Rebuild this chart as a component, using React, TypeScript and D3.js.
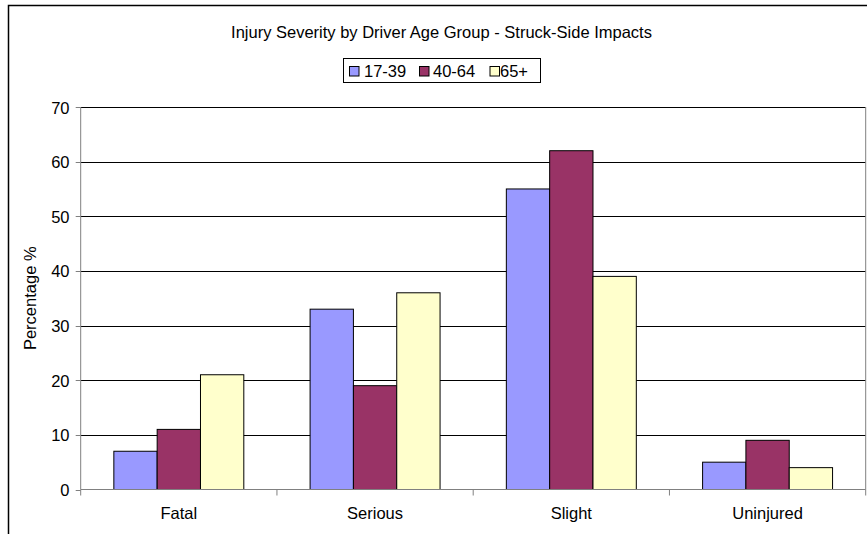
import React from "react";
import * as d3 from "d3";

const categories = ["Fatal", "Serious", "Slight", "Uninjured"];
const seriesNames = ["17-39", "40-64", "65+"];
const values17_39 = [7, 33, 55, 5];
const values40_64 = [11, 19, 62, 9];
const values65 = [21, 36, 39, 4];
const yTicks = [0, 10, 20, 30, 40, 50, 60, 70];
const colors = ["#9999FF", "#993366", "#FFFFCC"];

const W = 867, H = 534;
const plot = { left: 80.7, right: 865.7, top: 107, bottom: 489.5 };
const FONT = "'Liberation Sans', Arial, sans-serif";
const FS = 16.5;

export default function App() {
  const series = [values17_39, values40_64, values65];
  const x = d3.scaleBand().domain(categories).range([plot.left, plot.right]).paddingInner(0).paddingOuter(0);
  const inner = d3.scaleBand().domain(seriesNames).range([0, x.bandwidth()]).paddingInner(0).paddingOuter(0.765);
  const y = d3.scaleLinear().domain([0, 70]).range([plot.bottom, plot.top]);
  const xTickPos = [...categories.map((c) => x(c)!), plot.right];
  const legendSq = [349, 419, 489.5];
  const legendTx = [364, 433, 500];

  return (
    <svg width={W} height={H} style={{ position: "absolute", left: 0, top: 0, background: "#fff" }} fontFamily={FONT}>
      <rect x={8.5} y={5.5} width={W + 10} height={H + 10} fill="#fff" stroke="#000" strokeWidth={1.5} />
      <text x={441.5} y={37.7} textAnchor="middle" fontSize={FS} fill="#000">
        Injury Severity by Driver Age Group - Struck-Side Impacts
      </text>
      {/* legend */}
      <rect x={343.5} y={58.5} width={197} height={24} fill="#fff" stroke="#000" strokeWidth={1} />
      {seriesNames.map((s, i) => (
        <g key={s}>
          <rect x={legendSq[i] + 0.5} y={66.5} width={9.5} height={9.5} fill={colors[i]} stroke="#000" strokeWidth={1} />
          <text x={legendTx[i]} y={76.7} fontSize={FS} fill="#000">{s}</text>
        </g>
      ))}
      {/* gridlines */}
      {yTicks.filter((t) => t > 0).map((t) => (
        <line key={t} x1={plot.left} x2={plot.right} y1={Math.round(y(t)) + 0.5} y2={Math.round(y(t)) + 0.5} stroke="#000" strokeWidth={1} />
      ))}
      <line x1={plot.right} x2={plot.right} y1={plot.top} y2={plot.bottom} stroke="#808080" strokeWidth={1} />
      {/* bars */}
      {categories.map((c, ci) => (
        <g key={c}>
          {series.map((vals, si) => (
            <rect
              key={si}
              x={x(c)! + inner(seriesNames[si])!}
              y={y(vals[ci])}
              width={inner.bandwidth()}
              height={plot.bottom - y(vals[ci])}
              fill={colors[si]}
              stroke="#000"
              strokeWidth={1}
            />
          ))}
        </g>
      ))}
      {/* axes */}
      <line x1={plot.left} x2={plot.left} y1={plot.top} y2={plot.bottom} stroke="#808080" strokeWidth={1} />
      <line x1={plot.left} x2={plot.right} y1={plot.bottom} y2={plot.bottom} stroke="#808080" strokeWidth={1} />
      {yTicks.map((t) => (
        <g key={t}>
          <line x1={plot.left - 5} x2={plot.left} y1={Math.round(y(t)) + 0.5} y2={Math.round(y(t)) + 0.5} stroke="#808080" strokeWidth={1} />
          <text x={69.5} y={y(t) + 6.5} textAnchor="end" fontSize={FS} fill="#000">{t}</text>
        </g>
      ))}
      {xTickPos.map((p, i) => (
        <line key={i} x1={p} x2={p} y1={plot.bottom} y2={plot.bottom + 6} stroke="#808080" strokeWidth={1} />
      ))}
      {categories.map((c) => (
        <text key={c} x={x(c)! + x.bandwidth() / 2} y={519} textAnchor="middle" fontSize={FS} fill="#000">{c}</text>
      ))}
      <text transform={`translate(35.5,${(plot.top + plot.bottom) / 2}) rotate(-90)`} textAnchor="middle" fontSize={FS} fill="#000">
        Percentage %
      </text>
    </svg>
  );
}
